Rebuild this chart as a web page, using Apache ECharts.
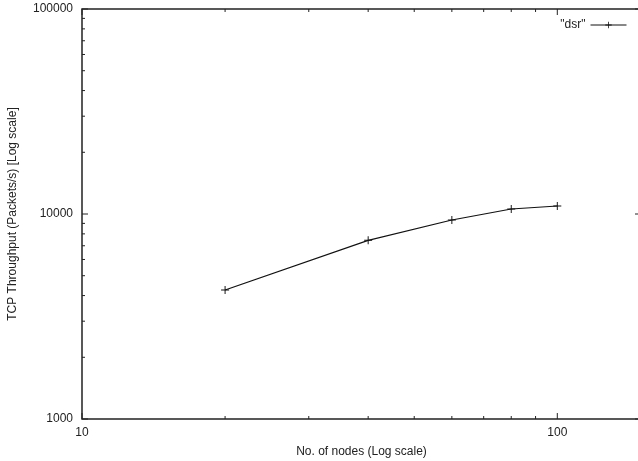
<!DOCTYPE html>
<html>
<head>
<meta charset="utf-8">
<script src="https://cdn.jsdelivr.net/npm/echarts@6/dist/echarts.min.js"></script>
<style>
html,body{margin:0;padding:0;background:#fff;}
#chart{width:638px;height:461px;}
</style>
</head>
<body>
<div id="chart"></div>
<script>
// Number of nodes and measured TCP throughput for DSR
const nodes = [20, 40, 60, 80, 100];
const throughput = [4256, 7438, 9348, 10578, 10942];
const seriesName = '"dsr"';

// Axis ranges and minor tick positions (log scale)
const xRange = [10, 150];
const yRange = [1000, 100000];
const xMinorTicks = [20, 30, 40, 50, 60, 70, 80, 90];
const xMajorTicks = [10, 100];
const yMinorTicks = [2000, 3000, 4000, 5000, 6000, 7000, 8000, 9000,
                     20000, 30000, 40000, 50000, 60000, 70000, 80000, 90000];
const yMajorTicks = [1000, 10000, 100000];

const FONT = 'Liberation Sans, Arial, Helvetica, sans-serif';
const plusPath = 'path://M4.4,0H5.6V4.4H10V5.6H5.6V10H4.4V5.6H0V4.4H4.4Z';

const chart = echarts.init(document.getElementById('chart'), null, {renderer: 'canvas'});

// Tick marks drawn along both opposite edges (gnuplot-style mirrored ticks)
function xTickRender(len) {
  return function (params, api) {
    const v = api.value(0);
    const b = api.coord([v, yRange[0]]);
    const t = api.coord([v, yRange[1]]);
    const style = {stroke: '#222', lineWidth: 1};
    return {type: 'group', children: [
      {type: 'line', shape: {x1: b[0], y1: b[1], x2: b[0], y2: b[1] - len}, style: style},
      {type: 'line', shape: {x1: t[0], y1: t[1], x2: t[0], y2: t[1] + len}, style: style}
    ]};
  };
}
function yTickRender(len) {
  return function (params, api) {
    const v = api.value(1);
    const l = api.coord([xRange[0], v]);
    const r = api.coord([xRange[1], v]);
    const style = {stroke: '#222', lineWidth: 1};
    return {type: 'group', children: [
      {type: 'line', shape: {x1: l[0], y1: l[1], x2: l[0] + len, y2: l[1]}, style: style},
      {type: 'line', shape: {x1: r[0], y1: r[1], x2: r[0] - len, y2: r[1]}, style: style}
    ]};
  };
}

const option = {
  animation: false,
  backgroundColor: '#fff',
  textStyle: {fontFamily: FONT},
  grid: {
    left: 82, top: 9, width: 559, height: 410,
    outerBoundsMode: 'none',
    show: true, borderColor: '#222', borderWidth: 1.5, containLabel: false
  },
  legend: {
    data: [seriesName],
    right: 6, top: 14,
    align: 'right',
    itemWidth: 36, itemHeight: 8, itemGap: 6,
    lineStyle: {width: 1},
    textStyle: {fontFamily: FONT, fontSize: 12, color: '#222'}
  },
  xAxis: {
    type: 'log', logBase: 10, min: xRange[0], max: xRange[1],
    name: 'No. of nodes (Log scale)', nameLocation: 'middle', nameGap: 27,
    nameTextStyle: {fontFamily: FONT, fontSize: 12, color: '#222'},
    axisLine: {show: false},
    axisTick: {show: false},
    splitLine: {show: false},
    axisLabel: {
      fontFamily: FONT, fontSize: 12, color: '#222', margin: 8,
      formatter: function (v) { return xMajorTicks.indexOf(Math.round(v)) >= 0 ? String(Math.round(v)) : ''; }
    }
  },
  yAxis: {
    type: 'log', logBase: 10, min: yRange[0], max: yRange[1],
    name: 'TCP Throughput (Packets/s) [Log scale]', nameLocation: 'middle', nameGap: 63,
    nameRotate: 90,
    nameTextStyle: {fontFamily: FONT, fontSize: 12, color: '#222'},
    axisLine: {show: false},
    axisTick: {show: false},
    splitLine: {show: false},
    axisLabel: {
      fontFamily: FONT, fontSize: 12, color: '#222', margin: 9,
      formatter: function (v) { return String(Math.round(v)); }
    }
  },
  series: [
    {
      name: seriesName,
      type: 'line',
      data: nodes.map((n, i) => [n, throughput[i]]),
      symbol: plusPath,
      symbolSize: 8,
      showAllSymbol: true,
      lineStyle: {color: '#111', width: 1.2},
      itemStyle: {color: '#111'},
      z: 5
    },
    {
      type: 'custom', silent: true, clip: false,
      renderItem: xTickRender(3),
      data: xMinorTicks.map(v => [v, yRange[0]]), z: 3
    },
    {
      type: 'custom', silent: true, clip: false,
      renderItem: xTickRender(6),
      data: xMajorTicks.map(v => [v, yRange[0]]), z: 3
    },
    {
      type: 'custom', silent: true, clip: false,
      renderItem: yTickRender(3),
      data: yMinorTicks.map(v => [xRange[0], v]), z: 3
    },
    {
      type: 'custom', silent: true, clip: false,
      renderItem: yTickRender(6),
      data: yMajorTicks.map(v => [xRange[0], v]), z: 3
    }
  ]
};
chart.setOption(option);
</script>
</body>
</html>
